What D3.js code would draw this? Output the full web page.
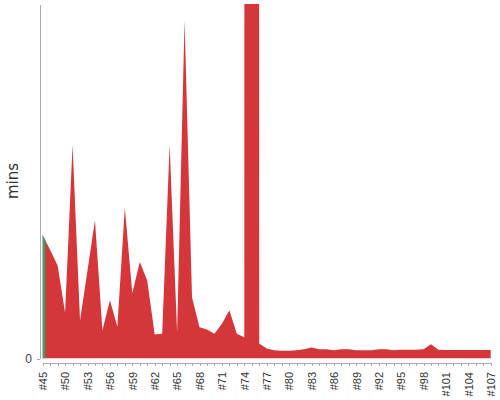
<!DOCTYPE html>
<html>
<head>
<meta charset="utf-8">
<script src="https://cdn.jsdelivr.net/npm/d3@7"></script>
<style>
  html, body { margin: 0; padding: 0; background: #fff; }
  svg { display: block; }
  .axis text { font-family: "Liberation Sans", Arial, sans-serif; font-size: 11px; fill: #333; }
  .axis path, .axis line { stroke: #aaa; shape-rendering: crispEdges; }
</style>
</head>
<body>
<svg id="chart" width="500" height="400"></svg>
<script>
// ---- data ----
const builds = ["#45","#48","#49","#50","#51","#52","#53","#54","#55","#56",
  "#57","#58","#59","#60","#61","#62","#63","#64","#65","#66",
  "#67","#68","#69","#70","#71","#72","#73","#74","#75","#76",
  "#77","#78","#79","#80","#81","#82","#83","#84","#85","#86",
  "#87","#88","#89","#90","#91","#92","#93","#94","#95","#96",
  "#97","#98","#99","#100","#101","#102","#103","#104","#105","#106","#107"];

// failed-build durations (mins)
const redValues = [
  17.4, 15.3, 13.1, 6.5, 30.1, 5.4, 12.4, 19.5, 4.0, 8.2,
  4.5, 21.3, 9.2, 13.6, 11.0, 3.4, 3.5, 30.1, 3.7, 47.7,
  8.6, 4.4, 4.1, 3.5, 4.9, 6.8, 3.5, 3.0, 5000, 2.1,
  1.4, 1.15, 1.1, 1.1, 1.15, 1.3, 1.55, 1.3, 1.3, 1.15,
  1.3, 1.3, 1.15, 1.15, 1.15, 1.3, 1.3, 1.15, 1.25, 1.25,
  1.25, 1.3, 2.0, 1.25, 1.2, 1.2, 1.2, 1.2, 1.2, 1.2, 1.2
];

// passed-build series (position along the build axis, mins)
const greenPos = [0, 0.35];
const greenValues = [17.4, 16.7];

const yTicks = [0];
const yMax = 50;

// ---- layout ----
const svg = d3.select("#chart");
const mLeft = 42.7, mRight = 490.7, mTop = 4, mBottom = 358.5;

const x = d3.scaleLinear().domain([0, builds.length - 1]).range([mLeft, mRight]);
const y = d3.scaleLinear().domain([0, yMax]).range([mBottom, mTop]);

svg.append("defs").append("clipPath").attr("id", "clip")
  .append("rect").attr("x", 40).attr("y", mTop).attr("width", 460).attr("height", mBottom - mTop);

const g = svg.append("g").attr("clip-path", "url(#clip)");

const red = redValues.map((v, i) => ({ x: i, v }));
const green = greenValues.map((v, i) => ({ x: greenPos[i], v }));

const area = d3.area()
  .x(d => x(d.x))
  .y0(y(0))
  .y1(d => y(d.v))
  .curve(d3.curveLinear);

g.append("path").datum(red).attr("d", area).attr("fill", "#d5363a");
g.append("path").datum(green).attr("d", area).attr("fill", "#3d9c6c");

// ---- axes ----
const yAxis = d3.axisLeft(y).tickValues(yTicks).tickSize(3).tickSizeOuter(0).tickPadding(5);
svg.append("g").attr("class", "axis").attr("transform", "translate(40,0)").call(yAxis)
  .selectAll(".tick text").style("font-size", "12px").style("fill", "#444");

const xAxis = d3.axisBottom(x)
  .tickValues(d3.range(builds.length))
  .tickFormat(i => (i % 3 === 0 ? builds[i] : ""))
  .tickSize(3).tickSizeOuter(0);

const xg = svg.append("g").attr("class", "axis").attr("transform", "translate(0,363)").call(xAxis);
xg.selectAll(".tick text")
  .attr("transform", "rotate(-90)")
  .attr("text-anchor", "end")
  .attr("x", -9)
  .attr("y", 0)
  .attr("dy", "0.35em");

svg.append("text")
  .attr("transform", "translate(18,181) rotate(-90)")
  .attr("text-anchor", "middle")
  .style("font-family", "'DejaVu Sans', sans-serif")
  .style("font-size", "15px")
  .style("fill", "#333")
  .text("mins");
</script>
</body>
</html>
